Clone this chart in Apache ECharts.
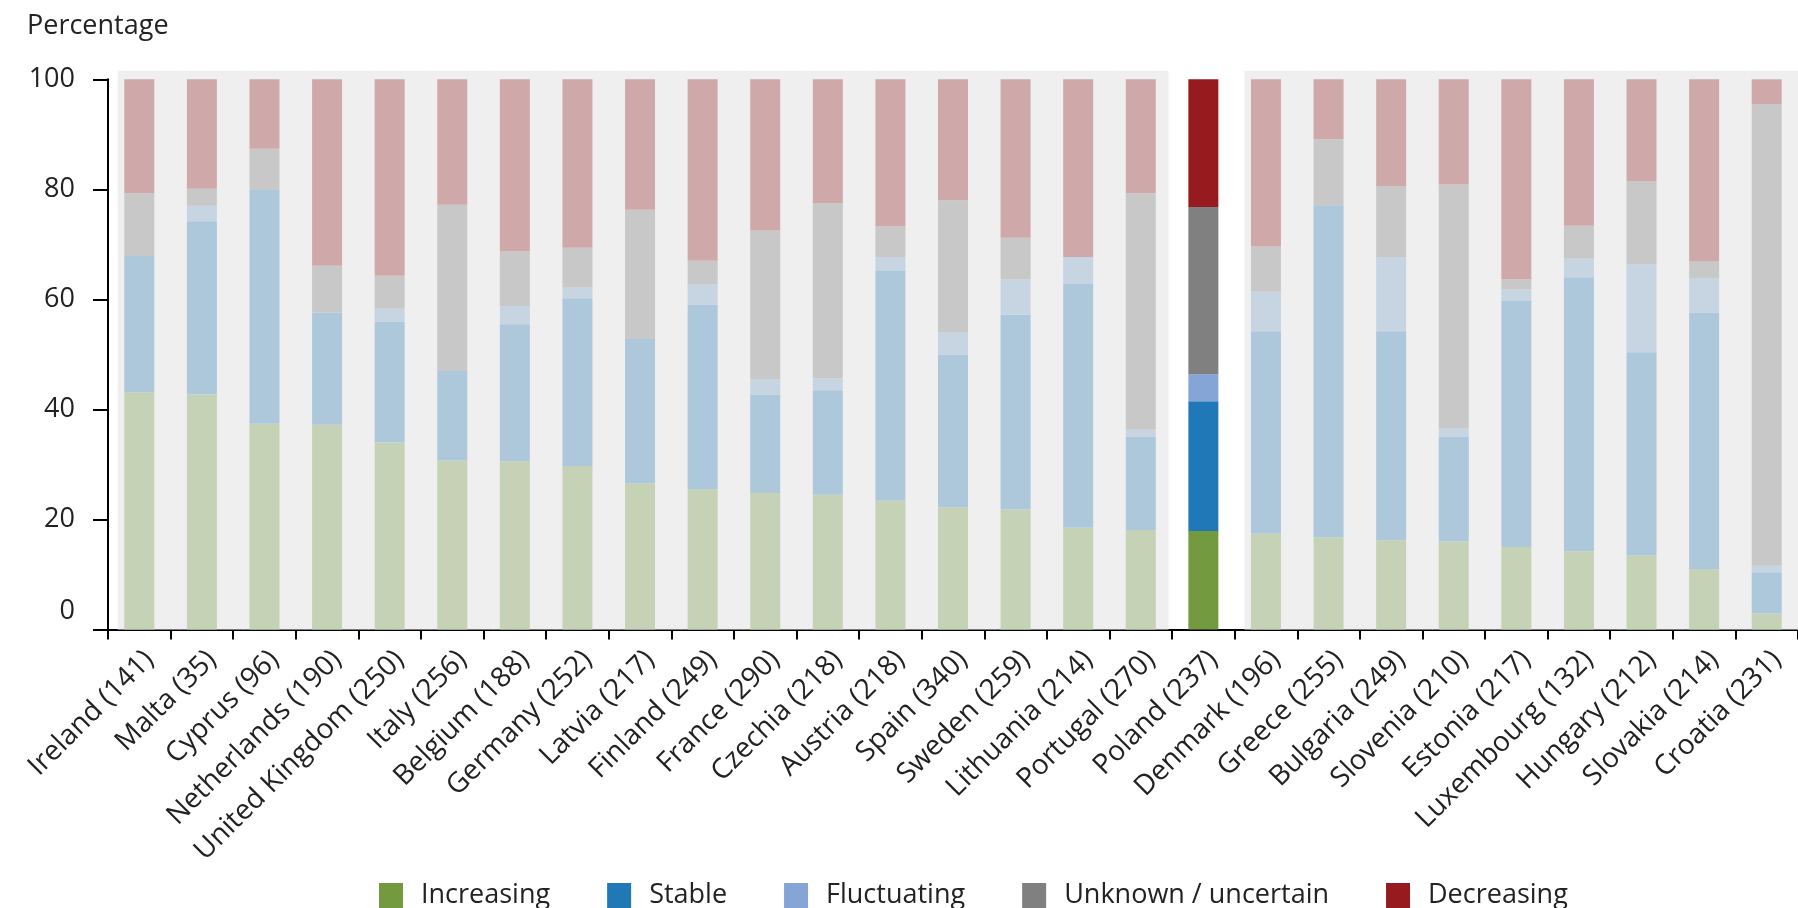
<!DOCTYPE html>
<html>
<head>
<meta charset="utf-8">
<script src="https://cdn.jsdelivr.net/npm/echarts@6/dist/echarts.min.js"></script>
<style>
html,body{margin:0;padding:0;background:#fff;}
#chart{width:1798px;height:908px;}
</style>
</head>
<body>
<div id="chart"></div>
<script>
// ---- data ----
const categories = ['Ireland (141)','Malta (35)','Cyprus (96)','Netherlands (190)','United Kingdom (250)','Italy (256)','Belgium (188)','Germany (252)','Latvia (217)','Finland (249)','France (290)','Czechia (218)','Austria (218)','Spain (340)','Sweden (259)','Lithuania (214)','Portugal (270)','Poland (237)','Denmark (196)','Greece (255)','Bulgaria (249)','Slovenia (210)','Estonia (217)','Luxembourg (132)','Hungary (212)','Slovakia (214)','Croatia (231)'];
const highlight = 'Poland (237)';
const increasing  = [43.1,42.7,37.4,37.2,34.0,30.7,30.6,29.7,26.6,25.5,24.8,24.5,23.4,22.2,21.8,18.5,18.1,17.9,17.4,16.7,16.2,16.0,15.0,14.2,13.5,11.0,2.9];
const stable      = [24.8,31.5,42.5,20.4,21.9,16.3,24.9,30.5,26.2,33.5,17.9,19.0,41.9,27.7,35.4,44.3,16.9,23.6,36.8,60.4,38.0,19.0,44.7,49.8,36.9,46.6,7.5];
const fluctuating = [0.0,2.8,0.0,0.0,2.4,0.0,3.3,1.9,0.0,3.7,2.8,2.1,2.4,4.1,6.4,4.9,1.3,4.9,7.2,0.0,13.5,1.6,2.1,3.4,16.0,6.3,1.2];
const unknown     = [11.4,3.1,7.5,8.5,6.0,30.2,9.9,7.3,23.5,4.3,27.0,31.9,5.6,24.0,7.6,0.0,43.0,30.4,8.2,12.0,12.9,44.3,1.8,6.0,15.1,3.0,83.9];
const decreasing  = [20.7,19.9,12.6,33.9,35.7,22.8,31.3,30.6,23.7,33.0,27.5,22.5,26.7,22.0,28.8,32.3,20.7,23.2,30.4,10.9,19.4,19.1,36.4,26.6,18.5,33.1,4.5];
const seriesNames = ['Increasing','Stable','Fluctuating','Unknown / uncertain','Decreasing'];
const yTicks = [0,20,40,60,80,100];

// ---- styles ----
const strong = ['#739a3e','#2178b6','#85a5d7','#808080','#961a1e'];
const faded  = ['#c5d2b5','#adc7db','#c7d4e2','#c8c8c8','#cfa9aa'];
const FONT = 'Open Sans';
const TXT = '#222';
const FS = 27;

const values = [increasing, stable, fluctuating, unknown, decreasing];

const barSeries = seriesNames.map((name, s) => ({
  name: name,
  type: 'bar',
  stack: 'total',
  barWidth: 30,
  z: 3,
  color: strong[s],
  itemStyle: { color: strong[s] },
  emphasis: { disabled: true },
  data: values[s].map((v, i) => ({
    value: v,
    itemStyle: { color: categories[i] === highlight ? strong[s] : faded[s] }
  }))
}));

const hiIdx = categories.indexOf(highlight);
const bgSeries = {
  type: 'custom',
  name: 'bg',
  z: 1,
  silent: true,
  encode: { x: 0, y: 1 },
  data: categories.map((c, i) => [i, 100]),
  renderItem: function (params, api) {
    const i = api.value(0);
    if (i === hiIdx) return null;
    const top = api.coord([i, 100]);
    const bot = api.coord([i, 0]);
    const bw = api.size([1, 0])[0];
    const x0 = top[0] - bw * 0.345;
    const x1 = (i + 1 === hiIdx) ? top[0] + bw * 0.443 : top[0] + bw * 0.655 + 0.5;
    return {
      type: 'rect',
      shape: { x: x0, y: top[1] - 8.5, width: x1 - x0, height: bot[1] - top[1] + 8.5 },
      style: { fill: '#efefef' }
    };
  }
};

const chart = echarts.init(document.getElementById('chart'), null, { renderer: 'canvas' });
chart.setOption({
  animation: false,
  backgroundColor: '#fff',
  textStyle: { fontFamily: FONT, color: TXT },
  title: {
    text: 'Percentage',
    left: 22, top: 8,
    textStyle: { fontFamily: FONT, fontSize: FS, fontWeight: 'normal', color: TXT }
  },
  legend: {
    data: seriesNames,
    left: 374, top: 877,
    icon: 'rect',
    itemWidth: 24, itemHeight: 25,
    itemGap: 57,
    selectedMode: false,
    textStyle: { fontFamily: FONT, fontSize: FS, color: TXT, padding: [0, 0, 0, 13] }
  },
  grid: { left: 108, right: 0, top: 79.3, bottom: 278.5, containLabel: false },
  xAxis: {
    type: 'category',
    data: categories,
    boundaryGap: true,
    axisLine: { lineStyle: { color: '#000', width: 2 } },
    axisTick: { show: true, length: 10, lineStyle: { color: '#000', width: 2 } },
    axisLabel: {
      interval: 0, rotate: 45, margin: 16, verticalAlign: 'top',
      fontFamily: FONT, fontSize: 28, color: TXT
    }
  },
  yAxis: {
    type: 'value',
    min: yTicks[0], max: yTicks[yTicks.length - 1], interval: 20,
    splitLine: { show: false },
    axisLine: { show: true, lineStyle: { color: '#000', width: 2 } },
    axisTick: { show: true, length: 15, lineStyle: { color: '#000', width: 2 } },
    axisLabel: {
      margin: 33,
      fontFamily: FONT, fontSize: FS, color: TXT,
      formatter: function (v) { return v === 0 ? '{z|0}' : String(v); },
      rich: { z: { fontFamily: FONT, fontSize: FS, color: TXT, padding: [0, 0, 36, 0] } }
    }
  },
  series: [bgSeries].concat(barSeries)
});
</script>
</body>
</html>
